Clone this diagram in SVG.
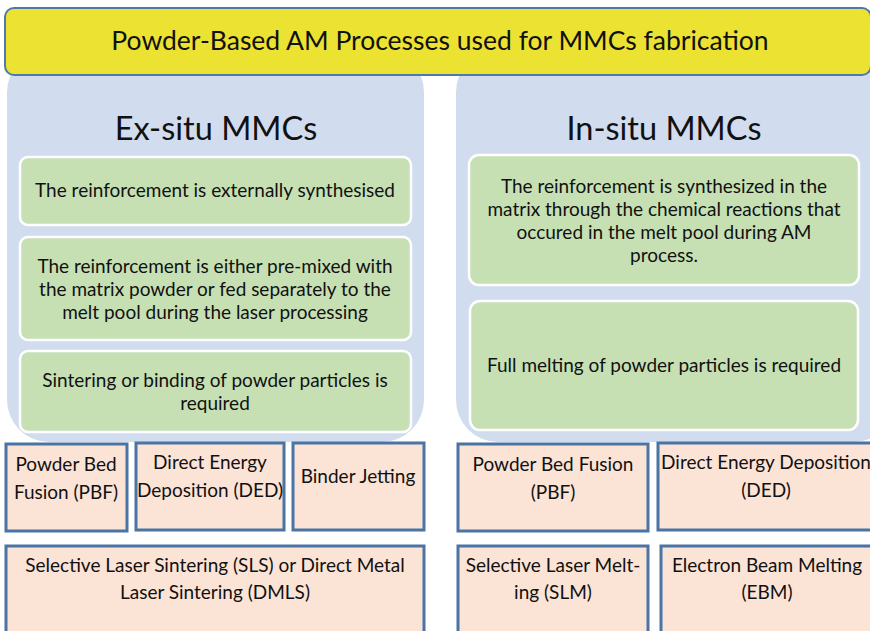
<svg xmlns="http://www.w3.org/2000/svg" width="870" height="631" viewBox="0 0 870 631">
<style>
text{font-family:Lato,"Open Sans","Liberation Sans",sans-serif;fill:#111;text-anchor:middle}
.panel{fill:#D1DDEE}
.green{fill:#C6E0B4;stroke:#fff;stroke-width:2.5}
.peach{fill:#FBE3D6;stroke:#4A74A3;stroke-width:3}
.t{font-size:19px}
.h{font-size:32.5px}
</style>
<rect x="0" y="0" width="870" height="631" fill="#fff"/>
<g id="panel-ex">
<rect class="panel" x="7" y="50" width="417" height="392" rx="42"/>
<text class="h" x="216" y="140">Ex-situ MMCs</text>
</g>
<g id="panel-in">
<rect class="panel" x="456" y="50" width="440" height="392" rx="42"/>
<text class="h" x="664" y="140">In-situ MMCs</text>
</g>
<g id="title">
<rect x="5" y="8" width="866" height="67" rx="9" fill="#ECE232" stroke="#4F79A8" stroke-width="2"/>
<text x="440" y="50" font-size="26.5">Powder-Based AM Processes used for MMCs fabrication</text>
</g>
<g id="ex1"><rect class="green" x="20" y="157" width="391" height="68" rx="8"/>
<text class="t" x="215" y="197">The reinforcement is externally synthesised</text></g>
<g id="ex2"><rect class="green" x="20" y="237" width="391" height="103" rx="8"/>
<text class="t" x="215" y="273">The reinforcement is either pre-mixed with</text>
<text class="t" x="215" y="296">the matrix powder or fed separately to the</text>
<text class="t" x="215" y="319">melt pool during the laser processing</text></g>
<g id="ex3"><rect class="green" x="20" y="351" width="391" height="81" rx="8"/>
<text class="t" x="215" y="387">Sintering or binding of powder particles is</text>
<text class="t" x="215" y="410">required</text></g>
<g id="in1"><rect class="green" x="469" y="155" width="390" height="130" rx="10"/>
<text class="t" x="664" y="193">The reinforcement is synthesized in the</text>
<text class="t" x="664" y="216">matrix through the chemical reactions that</text>
<text class="t" x="664" y="239">occured in the melt pool during AM</text>
<text class="t" x="664" y="262">process.</text></g>
<g id="in2"><rect class="green" x="470" y="301" width="388" height="129" rx="10"/>
<text class="t" x="664" y="372">Full melting of powder particles is required</text></g>
<g id="ex-pbf"><rect class="peach" x="6" y="444" width="121" height="87"/>
<text class="t" x="66" y="471">Powder Bed</text><text class="t" x="66" y="499">Fusion (PBF)</text></g>
<g id="ex-ded"><rect class="peach" x="136" y="443" width="148" height="87"/>
<text class="t" x="210" y="469">Direct Energy</text><text class="t" x="210" y="497">Deposition (DED)</text></g>
<g id="ex-bj"><rect class="peach" x="293" y="443" width="131" height="87"/>
<text class="t" x="358" y="483">Binder Jetting</text></g>
<g id="ex-sls"><rect class="peach" x="6" y="546" width="418" height="90"/>
<text class="t" x="215" y="572">Selective Laser Sintering (SLS) or Direct Metal</text>
<text class="t" x="215" y="599">Laser Sintering (DMLS)</text></g>
<g id="in-pbf"><rect class="peach" x="458" y="444" width="190" height="87"/>
<text class="t" x="553" y="471">Powder Bed Fusion</text><text class="t" x="553" y="499">(PBF)</text></g>
<g id="in-ded"><rect class="peach" x="658" y="443" width="220" height="87"/>
<text class="t" x="766" y="469">Direct Energy Deposition</text><text class="t" x="766" y="497">(DED)</text></g>
<g id="in-slm"><rect class="peach" x="458" y="546" width="190" height="90"/>
<text class="t" x="553" y="572">Selective Laser Melt-</text><text class="t" x="553" y="599">ing (SLM)</text></g>
<g id="in-ebm"><rect class="peach" x="661" y="546" width="217" height="90"/>
<text class="t" x="767" y="572">Electron Beam Melting</text><text class="t" x="767" y="599">(EBM)</text></g>
<g id="connectors"/>
</svg>
